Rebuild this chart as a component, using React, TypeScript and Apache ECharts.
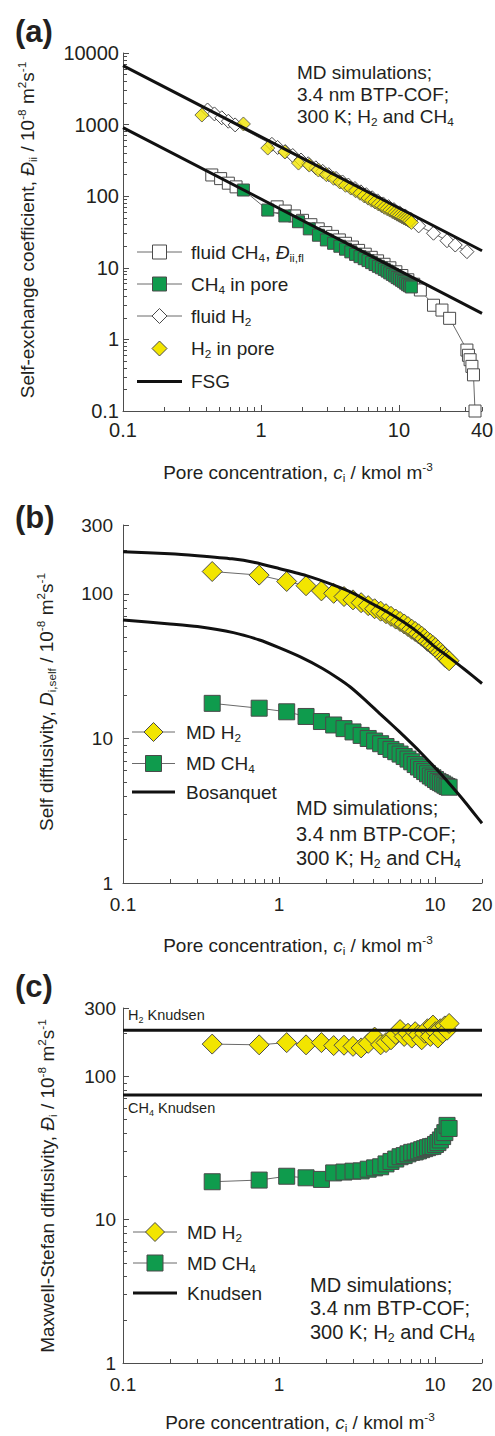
import { useEffect, useRef } from "react";
import * as echarts from "echarts";

const FONT = '"Liberation Sans", Arial, Helvetica, sans-serif';
const INK = "#231f20";
const AXIS = "#4d4d4d";
const YELLOW = "#f2e500";
const GREEN = "#0f9b4d";
const EDGE = "#4a4a4a";
const THIN = "#6a6a6a";
const OPEN = "#ffffff";

// Pore loadings of the MD runs, kmol m^-3 (shared by every in-pore data set)
const poreConc = [
  0.373, 0.746, 1.12, 1.49, 1.87, 2.24, 2.61, 2.98, 3.36, 3.73, 4.1, 4.48, 4.85, 5.22, 5.6, 5.97, 6.34,
  6.71, 7.09, 7.46, 7.83, 8.21, 8.58, 8.95, 9.33, 9.7, 10.07, 10.44, 10.82, 11.19, 11.56, 11.94, 12.31,
];

// (a) self-exchange coefficients, 10^-8 m2 s-1
const exchangeCH4Pore = [
  122, 64, 53, 44, 35, 28.5, 24.5, 22, 20, 18.2, 16.7, 15.4, 14.3, 13.4, 12.6, 11.8, 11.1, 10.5, 10.0,
  9.5, 9.0, 8.5, 8.1, 7.7, 7.3, 7.0, 6.7, 6.4, 6.1, 5.8, 5.6, 5.4,
]; // runs 2..33
const exchangeH2Pore = [
  1360, 1020, 470, 415, 290, 272, 232, 200, 178, 158, 142, 130, 119, 110, 101, 94, 88, 83, 78, 74, 70,
  67, 64, 61, 58.5, 56, 54, 52, 50, 48.5, 47, 45, 43,
];
const fluidCH4: [number, number][] = [
  [0.44, 198], [0.51, 176], [0.58, 152], [0.66, 135], [1.31, 71], [1.5, 62], [1.75, 53], [2.0, 46],
  [2.3, 40], [2.6, 35], [2.95, 31], [3.3, 27.5], [3.7, 24.5], [4.1, 22], [4.6, 19.5], [5.1, 17.5],
  [5.7, 15.5], [6.3, 14], [7.0, 12.5], [7.8, 11.2], [8.6, 10], [9.5, 8.8], [10.5, 7.8], [11.6, 6.8],
  [12.8, 5.9], [14.3, 4.9], [17.8, 3.0], [20.5, 2.57], [23.3, 1.97], [31.1, 0.71], [31.9, 0.6],
  [32.8, 0.52], [33.8, 0.42], [34.7, 0.32], [35.6, 0.1],
];
const fluidH2: [number, number][] = [
  [0.41, 1600], [0.46, 1410], [0.52, 1245], [0.58, 1115], [0.65, 990], [1.2, 530], [1.32, 480],
  [1.5, 420], [1.7, 370], [1.95, 320], [2.2, 284], [2.5, 249], [2.8, 222], [3.1, 200], [3.5, 177],
  [3.9, 158], [4.3, 143], [4.8, 128], [5.3, 115], [5.8, 105], [6.4, 95], [7.0, 86], [7.7, 78],
  [8.4, 71.5], [9.2, 65], [10.1, 58.5], [11.1, 53], [12.2, 47.5], [13.9, 38.5], [17.8, 30.4],
  [22.3, 23.9], [25.6, 20.8], [31.1, 16.8],
];
const fsgH2: [number, number][] = [[0.1, 6650], [40, 17.3]];
const fsgCH4: [number, number][] = [[0.1, 908], [40, 2.31]];

// (b) self diffusivities, 10^-8 m2 s-1
const selfH2 = [
  143, 135, 122, 114, 105, 101, 96, 91, 87, 83, 79, 76, 73, 70, 67, 64.5, 62, 59.5, 57, 55, 53, 51, 49,
  47, 45.5, 44, 42.5, 41, 39.5, 38, 36.5, 35.5, 34.5,
];
const selfCH4 = [
  17.5, 16.2, 15.3, 14.2, 13.1, 12.4, 11.7, 11.1, 10.5, 10.0, 9.6, 9.2, 8.8, 8.4, 8.1, 7.8, 7.5, 7.2,
  6.9, 6.6, 6.35, 6.1, 5.9, 5.7, 5.5, 5.35, 5.2, 5.05, 4.95, 4.85, 4.75, 4.65, 4.6,
];
const bosanquetH2: [number, number][] = [
  [0.1, 196], [0.2, 190], [0.3, 184], [0.5, 175], [0.7, 165], [1.0, 150], [1.5, 134], [2.2, 116],
  [3, 101], [4, 85], [5, 74.5], [6.5, 62.5], [8, 53], [10, 43], [12.5, 36], [15.5, 30], [20, 24],
];
const bosanquetCH4: [number, number][] = [
  [0.1, 66], [0.2, 62], [0.3, 59.5], [0.51, 54], [0.75, 48], [1.0, 42.5], [1.36, 36.8], [1.9, 30.5],
  [2.4, 26], [2.85, 22.8], [3.5, 18.8], [4.44, 14.8], [5.4, 12.2], [6.5, 10.1], [8, 8.1], [10.8, 5.74],
  [12.5, 4.8], [15.2, 3.75], [17.5, 3.1], [20, 2.59],
];

// (c) Maxwell-Stefan diffusivities, 10^-8 m2 s-1
const msH2 = [
  168, 166, 172, 166, 172, 164, 165, 162, 158, 170, 188, 166, 172, 180, 196, 212, 190, 200, 185, 205,
  195, 180, 200, 215, 190, 228, 205, 185, 215, 200, 225, 210, 234,
];
const msCH4 = [
  18.4, 18.9, 20.1, 19.6, 19.1, 21.2, 21.5, 21.8, 21.9, 22.5, 23.0, 23.4, 24.5, 25.5, 26.5, 27.5, 28.0,
  28.8, 29.5, 29.7, 30.2, 30.8, 31.3, 31.8, 32.3, 32.5, 33.5, 34.5, 36, 38, 40.5, 45.5, 43.3,
];
const knudsenH2 = 210;
const knudsenCH4 = 74;

// Axis extents and tick positions (data units)
const xMinorA = [0.2, 0.3, 0.4, 0.5, 0.6, 0.7, 0.8, 0.9, 2, 3, 4, 5, 6, 7, 8, 9, 20, 30, 40];
const xMinorBC = [0.2, 0.3, 0.4, 0.5, 0.6, 0.7, 0.8, 0.9, 2, 3, 4, 5, 6, 7, 8, 9, 20];
const xMajor = [0.1, 1, 10];
const xLabelsA = [0.1, 1, 10, 40];
const xLabelsBC = [0.1, 1, 10, 20];
const yMajorA = [0.1, 1, 10, 100, 1000, 10000];
const yMinorA = [
  0.2, 0.3, 0.4, 0.5, 0.6, 0.7, 0.8, 0.9, 2, 3, 4, 5, 6, 7, 8, 9, 20, 30, 40, 50, 60, 70, 80, 90, 200,
  300, 400, 500, 600, 700, 800, 900, 2000, 3000, 4000, 5000, 6000, 7000, 8000, 9000,
];
const yMajorBC = [1, 10, 100, 300];
const yMinorBC = [2, 3, 4, 5, 6, 7, 8, 9, 20, 30, 40, 50, 60, 70, 80, 90, 200];

const lg = (v: number) => Math.log10(v);
const toLog = (pts: [number, number][]) => pts.map(([x, y]) => [lg(x), lg(y)]);
const pair = (xs: number[], ys: number[]): [number, number][] => ys.map((y, i) => [xs[i], y]);

function labelFmt(labels: number[]) {
  return (v: number) => {
    const hit = labels.find((l) => Math.abs(lg(l) - v) < 1e-6);
    return hit === undefined ? "" : String(hit);
  };
}

type Dir = "x" | "y";
function axisPair(
  dir: Dir,
  grid: number,
  min: number,
  max: number,
  major: number[],
  minor: number[],
  labels: number[],
  fontSize: number,
  margin: number
) {
  const base: any = {
    type: "value",
    gridIndex: grid,
    min: lg(min),
    max: lg(max),
    position: dir === "x" ? "bottom" : "left",
    offset: 0,
    splitLine: { show: false },
    splitArea: { show: false },
  };
  return [
    {
      ...base,
      axisLine: { show: true, onZero: false, lineStyle: { color: AXIS, width: 1 } },
      axisTick: {
        show: true,
        inside: true,
        length: 6,
        lineStyle: { color: AXIS, width: 1 },
        customValues: major.map(lg),
      },
      axisLabel: {
        show: true,
        customValues: labels.map(lg),
        formatter: labelFmt(labels),
        color: INK,
        fontSize,
        fontFamily: FONT,
        margin,
      },
    },
    {
      ...base,
      axisLine: { show: false, onZero: false },
      axisTick: {
        show: true,
        inside: true,
        length: 4,
        lineStyle: { color: AXIS, width: 1 },
        customValues: minor.map(lg),
      },
      axisLabel: { show: false },
    },
  ];
}

function markerSeries(
  name: string,
  data: [number, number][],
  axis: number,
  symbol: string,
  size: number,
  fill: string,
  withLine: boolean
) {
  const common: any = {
    name,
    xAxisIndex: axis,
    yAxisIndex: axis,
    data: toLog(data),
    symbol,
    symbolSize: size,
    itemStyle: { color: fill, borderColor: EDGE, borderWidth: 1 },
    emphasis: { disabled: true },
    silent: true,
    z: 2,
  };
  if (!withLine) return { ...common, type: "scatter" };
  return {
    ...common,
    type: "line",
    showSymbol: true,
    showAllSymbol: true,
    lineStyle: { color: THIN, width: 1 },
  };
}

function curveSeries(name: string, data: [number, number][], axis: number, smooth: number) {
  return {
    name,
    type: "line",
    xAxisIndex: axis,
    yAxisIndex: axis,
    data: toLog(data),
    symbol: "none",
    smooth,
    lineStyle: { color: "#111", width: 3 },
    emphasis: { disabled: true },
    silent: true,
    z: 4,
  };
}

// rich-text styles for subscripts, superscripts and italics
function rich(s: number) {
  const small = Math.round(s * 0.62 * 10) / 10;
  return {
    t: { fontSize: s, fontFamily: FONT, fill: INK, lineHeight: s + 4 },
    i: { fontSize: s, fontFamily: FONT, fill: INK, fontStyle: "italic", lineHeight: s + 4 },
    sub: { fontSize: small, fontFamily: FONT, fill: INK, lineHeight: small + 1, verticalAlign: "bottom" },
    sup: { fontSize: small, fontFamily: FONT, fill: INK, lineHeight: small + 1, verticalAlign: "top" },
  };
}

function label(
  text: string,
  x: number,
  y: number,
  size: number,
  opts: { align?: string; rotation?: number } = {}
) {
  const align = opts.align || "left";
  return {
    type: "text",
    x,
    y,
    rotation: opts.rotation || 0,
    silent: true,
    z: 20,
    style: {
      text,
      rich: rich(size),
      fill: INK,
      fontSize: size,
      fontFamily: FONT,
      align,
      textAlign: align,
      verticalAlign: "middle",
      textVerticalAlign: "middle",
    },
  };
}

function keyLine(x1: number, x2: number, y: number, thick: boolean) {
  return {
    type: "line",
    silent: true,
    z: 20,
    shape: { x1, y1: y, x2, y2: y },
    style: { stroke: thick ? "#111" : THIN, lineWidth: thick ? 3 : 1 },
  };
}
function keySquare(cx: number, cy: number, s: number, fill: string) {
  return {
    type: "rect",
    silent: true,
    z: 21,
    shape: { x: cx - s / 2, y: cy - s / 2, width: s, height: s },
    style: { fill, stroke: EDGE, lineWidth: 1 },
  };
}
function keyDiamond(cx: number, cy: number, s: number, fill: string) {
  const h = s / 2;
  return {
    type: "polygon",
    silent: true,
    z: 21,
    shape: { points: [[cx, cy - h], [cx + h, cy], [cx, cy + h], [cx - h, cy]] },
    style: { fill, stroke: EDGE, lineWidth: 1 },
  };
}

const xTitle = "{t|Pore concentration, }{i|c}{sub|i}{t| / kmol m}{sup|-3}";
const unit = "{t| / 10}{sup|-8}{t| m}{sup|2}{t|s}{sup|-1}";

function buildOption() {
  const xAxis = [
    ...axisPair("x", 0, 0.1, 40, xMajor, xMinorA, xLabelsA, 20, 9),
    ...axisPair("x", 1, 0.1, 20, xMajor, xMinorBC, xLabelsBC, 19, 12),
    ...axisPair("x", 2, 0.1, 20, xMajor, xMinorBC, xLabelsBC, 19, 12),
  ];
  const yAxis = [
    ...axisPair("y", 0, 0.1, 10000, yMajorA, yMinorA, yMajorA, 20, 4),
    ...axisPair("y", 1, 1, 300, yMajorBC, yMinorBC, yMajorBC, 19, 10),
    ...axisPair("y", 2, 1, 300, yMajorBC, yMinorBC, yMajorBC, 19, 7),
  ];

  const series = [
    // (a)
    markerSeries("fluid CH4", fluidCH4, 0, "rect", 12, OPEN, true),
    markerSeries("CH4 in pore", pair(poreConc.slice(1), exchangeCH4Pore), 0, "rect", 12, GREEN, true),
    markerSeries("fluid H2", fluidH2, 0, "diamond", 14, OPEN, true),
    markerSeries("H2 in pore", pair(poreConc, exchangeH2Pore), 0, "diamond", 14, YELLOW, false),
    curveSeries("FSG H2", fsgH2, 0, 0),
    curveSeries("FSG CH4", fsgCH4, 0, 0),
    // (b)
    markerSeries("MD H2 self", pair(poreConc, selfH2), 2, "diamond", 20, YELLOW, true),
    markerSeries("MD CH4 self", pair(poreConc, selfCH4), 2, "rect", 16, GREEN, true),
    curveSeries("Bosanquet H2", bosanquetH2, 2, 0.2),
    curveSeries("Bosanquet CH4", bosanquetCH4, 2, 0.2),
    // (c)
    markerSeries("MD H2 MS", pair(poreConc, msH2), 4, "diamond", 20, YELLOW, true),
    markerSeries("MD CH4 MS", pair(poreConc, msCH4), 4, "rect", 16, GREEN, true),
    curveSeries("Knudsen H2", [[0.1, knudsenH2], [20, knudsenH2]], 4, 0),
    curveSeries("Knudsen CH4", [[0.1, knudsenCH4], [20, knudsenCH4]], 4, 0),
  ];

  const panelTag = (t: string, y: number) => ({
    type: "text",
    x: 15,
    y,
    silent: true,
    z: 20,
    style: {
      text: t,
      fill: INK,
      fontSize: 31,
      fontWeight: "bold",
      fontFamily: FONT,
      align: "left",
      textAlign: "left",
      verticalAlign: "middle",
      textVerticalAlign: "middle",
    },
  });

  const graphic: any[] = [
    panelTag("(a)", 31),
    panelTag("(b)", 517),
    panelTag("(c)", 986),

    // axis titles
    label(xTitle, 298, 472, 19, { align: "center" }),
    label(xTitle, 298, 945, 19, { align: "center" }),
    label(xTitle, 300, 1422, 19, { align: "center" }),
    label("{t|Self-exchange coefficient, }{i|Đ}{sub|ii}" + unit, 27, 230, 19, {
      align: "center",
      rotation: Math.PI / 2,
    }),
    label("{t|Self diffusivity, }{i|D}{sub|i,self}" + unit, 46, 702, 19, {
      align: "center",
      rotation: Math.PI / 2,
    }),
    label("{t|Maxwell-Stefan diffusivity, }{i|Đ}{sub|i}" + unit, 47, 1186, 19, {
      align: "center",
      rotation: Math.PI / 2,
    }),

    // annotations
    label("{t|MD simulations;}", 297, 72, 19),
    label("{t|3.4 nm BTP-COF;}", 297, 94, 19),
    label("{t|300 K; H}{sub|2}{t| and CH}{sub|4}", 297, 116, 19),
    label("{t|MD simulations;}", 296, 808, 20),
    label("{t|3.4 nm BTP-COF;}", 296, 834, 20),
    label("{t|300 K; H}{sub|2}{t| and CH}{sub|4}", 296, 858, 20),
    label("{t|MD simulations;}", 310, 1285, 20),
    label("{t|3.4 nm BTP-COF;}", 310, 1308, 20),
    label("{t|300 K; H}{sub|2}{t| and CH}{sub|4}", 310, 1332, 20),

    label("{t|H}{sub|2}{t| Knudsen}", 128, 1015, 14.5),
    label("{t|CH}{sub|4}{t| Knudsen}", 128, 1108, 14.5),

    // key (a)
    keyLine(137, 182, 252, false),
    keySquare(159.5, 252, 14, OPEN),
    label("{t|fluid CH}{sub|4}{t|, }{i|Đ}{sub|ii,fl}", 191, 252, 19),
    keyLine(137, 182, 284, false),
    keySquare(159.5, 284, 14, GREEN),
    label("{t|CH}{sub|4}{t| in pore}", 191, 284, 19),
    keyLine(137, 182, 316, false),
    keyDiamond(159.5, 316, 15, OPEN),
    label("{t|fluid H}{sub|2}", 191, 316, 19),
    keyDiamond(159.5, 348.5, 15, YELLOW),
    label("{t|H}{sub|2}{t| in pore}", 191, 348.5, 19),
    keyLine(137, 182, 381.5, true),
    label("{t|FSG}", 191, 381.5, 19),

    // key (b)
    keyLine(132, 175, 732, false),
    keyDiamond(153.5, 732, 19, YELLOW),
    label("{t|MD H}{sub|2}", 186, 732, 19),
    keyLine(132, 175, 763.5, false),
    keySquare(153.5, 763.5, 16, GREEN),
    label("{t|MD CH}{sub|4}", 186, 763.5, 19),
    keyLine(132, 175, 792, true),
    label("{t|Bosanquet}", 186, 792, 19),

    // key (c)
    keyLine(133, 177, 1232, false),
    keyDiamond(155, 1232, 19, YELLOW),
    label("{t|MD H}{sub|2}", 187, 1232, 19),
    keyLine(133, 177, 1263, false),
    keySquare(155, 1263, 16, GREEN),
    label("{t|MD CH}{sub|4}", 187, 1263, 19),
    keyLine(133, 177, 1293, true),
    label("{t|Knudsen}", 187, 1293, 19),
  ];

  return {
    animation: false,
    backgroundColor: "#ffffff",
    textStyle: { fontFamily: FONT },
    grid: [
      { left: 123, top: 53, width: 359, height: 358, containLabel: false, outerBoundsMode: "none" },
      { left: 123, top: 525, width: 359, height: 358, containLabel: false, outerBoundsMode: "none" },
      { left: 123, top: 1008, width: 359, height: 355, containLabel: false, outerBoundsMode: "none" },
    ],
    xAxis,
    yAxis,
    series,
    graphic,
  };
}

export default function App() {
  const ref = useRef<HTMLDivElement>(null);
  useEffect(() => {
    if (!ref.current) return;
    const chart = echarts.init(ref.current, undefined, { renderer: "svg" });
    chart.setOption(buildOption() as any);
    return () => chart.dispose();
  }, []);
  return (
    <div
      ref={ref}
      style={{ position: "absolute", left: 0, top: 0, width: 495, height: 1436, background: "#fff" }}
    />
  );
}
